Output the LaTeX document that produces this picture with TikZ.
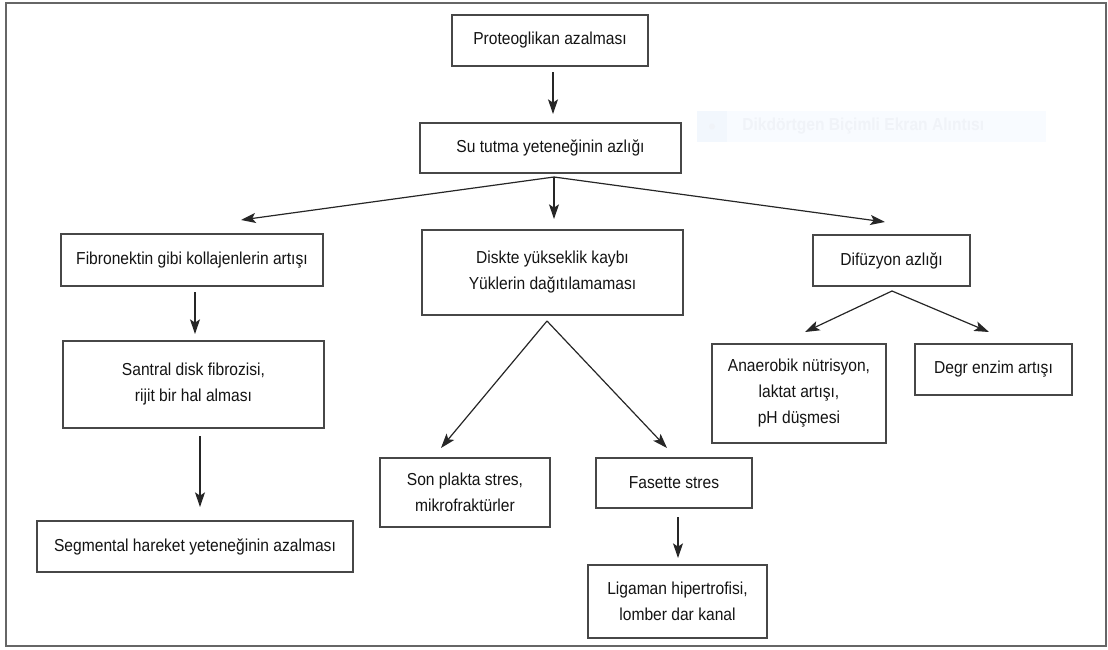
\documentclass[tikz,border=0pt]{standalone}
\usepackage{fontspec}
\setmainfont{Liberation Sans}[FakeStretch=0.9]
\usetikzlibrary{arrows.meta}
\definecolor{wmfill}{RGB}{248,251,255}
\definecolor{wmsq}{RGB}{242,247,253}
\definecolor{wmtext}{RGB}{240,243,248}
\begin{document}
\begin{tikzpicture}[x=0.75pt,y=-0.75pt,
  box/.style={draw=black!72, line width=1pt, fill=white, text=black!92, align=center,
    inner sep=0pt, font=\fontsize{13pt}{19.5pt}\selectfont},
  wh/.style 2 args={minimum width={#1*0.75pt}, minimum height={#2*0.75pt}},
  arr/.style={draw=black!85, line width=0.9pt, -{Stealth[length=11pt,width=7.5pt,inset=2.5pt]}},
  frame/.style={draw=black!60, line width=1.6pt}]
\useasboundingbox (0,0) rectangle (1108,650);
\draw[frame] (6,3) rectangle (1106,646);

% faint watermark
\fill[wmfill] (697,111) rectangle (1046,142);
\fill[wmsq] (697,111) rectangle (727,142);
\fill[wmtext] (712,126.5) circle (3);
\node[anchor=west, text=wmtext, inner sep=0pt, font=\bfseries\fontsize{13pt}{15pt}\selectfont] (wm) at (742,126.5) {Dikdörtgen Biçimli Ekran Alıntısı};

% boxes
\node[box, wh={196}{51}] (prot) at (550,40.5) {Proteoglikan azalması};
\node[box, wh={261}{50}] (su) at (550.5,148) {Su tutma yeteneğinin azlığı};
\node[box, wh={262}{52}] (fib) at (192,260) {Fibronektin gibi kollajenlerin artışı};
\node[box, wh={261}{85}] (dis) at (552.5,272.5) {Diskte yükseklik kaybı\\Yüklerin dağıtılamaması};
\node[box, wh={157}{51}] (dif) at (891.5,260.5) {Difüzyon azlığı};
\node[box, wh={261}{87}] (san) at (193.5,384.5) {Santral disk fibrozisi,\\rijit bir hal alması};
\node[box, wh={316}{51}] (seg) at (195,546.5) {Segmental hareket yeteneğinin azalması};
\node[box, wh={170}{69}] (son) at (465,492.5) {Son plakta stres,\\mikrofraktürler};
\node[box, wh={156}{50}] (fas) at (674,483) {Fasette stres};
\node[box, wh={179}{73}] (lig) at (677.5,601.5) {Ligaman hipertrofisi,\\lomber dar kanal};
\node[box, wh={174}{99}] (ana) at (799,393.5) {Anaerobik nütrisyon,\\laktat artışı,\\pH düşmesi};
\node[box, wh={157}{51}] (deg) at (993.5,369.5) {Degr enzim artışı};

% connector end points
\coordinate (p1) at (553,72);   \coordinate (p1e) at (553,114);
\coordinate (f1) at (554,177);
\coordinate (f1l) at (241,220); \coordinate (f1m) at (554,219); \coordinate (f1r) at (885,222);
\coordinate (b1) at (195,292);  \coordinate (b1e) at (195,334);
\coordinate (b2) at (200,436);  \coordinate (b2e) at (200,507);
\coordinate (f2) at (547,321);
\coordinate (f2l) at (441,448); \coordinate (f2r) at (667,448);
\coordinate (c1) at (678,517);  \coordinate (c1e) at (678,558);
\coordinate (f3) at (892,291);
\coordinate (f3l) at (805,332); \coordinate (f3r) at (989,332);

\draw[arr] (p1) -- (p1e);
\draw[arr] (f1) -- (f1l);
\draw[arr] (f1) -- (f1m);
\draw[arr] (f1) -- (f1r);
\draw[arr] (b1) -- (b1e);
\draw[arr] (b2) -- (b2e);
\draw[arr] (f2) -- (f2l);
\draw[arr] (f2) -- (f2r);
\draw[arr] (c1) -- (c1e);
\draw[arr] (f3) -- (f3l);
\draw[arr] (f3) -- (f3r);
\end{tikzpicture}
\end{document}
